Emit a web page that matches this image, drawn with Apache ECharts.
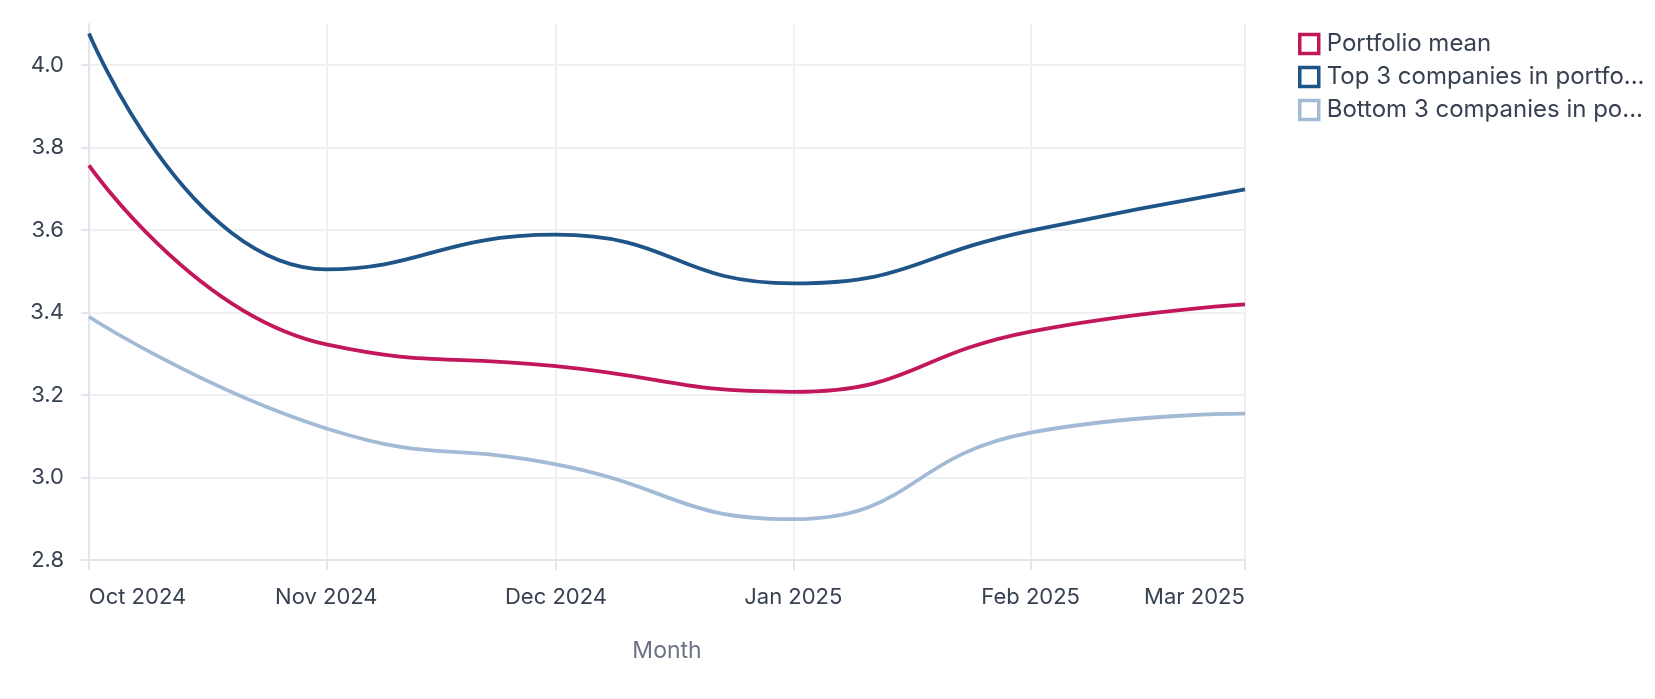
<!DOCTYPE html>
<html>
<head>
<meta charset="utf-8">
<script src="https://cdn.jsdelivr.net/npm/echarts@6/dist/echarts.min.js"></script>
<style>
	html, body { margin: 0; padding: 0; background: #fff; }
	#myChart { width: 1655px; height: 699px; }
</style>
</head>
<body>
<div id="myChart"></div>
<script>
	// 月份 (time axis)
	var months = ['2024-10-01', '2024-11-01', '2024-12-01', '2025-01-01', '2025-02-01', '2025-03-01'];
	var monthNames = ['Jan', 'Feb', 'Mar', 'Apr', 'May', 'Jun', 'Jul', 'Aug', 'Sep', 'Oct', 'Nov', 'Dec'];

	var seriesNames = ['Portfolio mean', 'Top 3 companies in portfolio', 'Bottom 3 companies in portfolio'];
	var meanValues = [3.757, 3.323, 3.270, 3.208, 3.354, 3.420];
	var topValues = [4.077, 3.505, 3.589, 3.471, 3.599, 3.699];
	var bottomValues = [3.390, 3.119, 3.032, 2.899, 3.109, 3.155];
	var colors = ['#c2185b', '#1f5489', '#a2bad5'];

	var labelFont = 22;

	function pairs(vals) {
		return vals.map(function(v, i) {
			return [months[i], v];
		});
	}

	// 文字宽度
	var measureCtx = document.createElement('canvas').getContext('2d');
	function textWidth(str) {
		measureCtx.font = labelFont + 'px Inter';
		return Math.round(measureCtx.measureText(str).width);
	}

	function monthLabel(value) {
		var d = new Date(value);
		return monthNames[d.getMonth()] + ' ' + d.getFullYear();
	}

	var firstTime = new Date(months[0]).getTime();
	var lastTime = new Date(months[months.length - 1]).getTime();
	var firstLabel = monthLabel(firstTime);
	var lastLabel = monthLabel(lastTime);

	var myChart = echarts.init(document.getElementById('myChart'));

	var lineSeries = [meanValues, topValues, bottomValues].map(function(vals, i) {
		return {
			name: seriesNames[i],
			type: 'line',
			smooth: true,
			showSymbol: false,
			data: pairs(vals),
			lineStyle: {
				color: colors[i],
				width: 3.8
			},
			itemStyle: {
				color: '#fff',
				borderColor: colors[i],
				borderWidth: 3.5
			}
		};
	});

	var option = {
		animation: false,
		textStyle: {
			fontFamily: 'Inter'
		},
		legend: {
			orient: 'vertical',
			left: 1293,
			top: 27,
			itemWidth: 19,
			itemHeight: 19,
			itemGap: 9,
			icon: 'rect',
			selectedMode: false,
			itemStyle: {
				borderWidth: 3.5
			},
			textStyle: {
				color: '#374151',
				fontSize: 24,
				padding: [0, 0, 0, 3],
				width: 323,
				overflow: 'truncate',
				ellipsis: '...'
			}
		},
		grid: {
			left: 89,
			right: 410,
			top: 24,
			bottom: 139,
			containLabel: false
		},
		xAxis: {
			type: 'time',
			min: months[0],
			max: months[months.length - 1],
			minInterval: 28 * 86400000,
			maxInterval: 31 * 86400000,
			name: 'Month',
			nameLocation: 'middle',
			nameGap: 80,
			nameTextStyle: {
				color: '#6b7280',
				fontSize: 23
			},
			axisLine: {
				show: true,
				lineStyle: { color: '#e2e5ec', width: 2 }
			},
			axisTick: {
				show: true,
				length: 10,
				lineStyle: { color: '#e2e5ec', width: 2 }
			},
			splitLine: {
				show: true,
				lineStyle: { color: '#eef0f3', width: 2 }
			},
			axisLabel: {
				color: '#374151',
				fontSize: labelFont,
				margin: 26,
				hideOverlap: false,
				formatter: function(value) {
					var s = monthLabel(value);
					if (value === firstTime) return '{first|' + s + '}';
					if (value === lastTime) return '{last|' + s + '}';
					return s;
				},
				rich: {
					first: {
						fontSize: labelFont,
						color: '#374151',
						padding: [0, 0, 0, textWidth(firstLabel)]
					},
					last: {
						fontSize: labelFont,
						color: '#374151',
						padding: [0, textWidth(lastLabel), 0, 0]
					}
				}
			}
		},
		yAxis: {
			type: 'value',
			min: 2.8,
			max: 4.1,
			interval: 0.2,
			axisLine: {
				show: true,
				lineStyle: { color: '#e2e5ec', width: 2 }
			},
			axisTick: {
				show: true,
				length: 8,
				lineStyle: { color: '#e2e5ec', width: 2 }
			},
			splitLine: {
				show: true,
				showMaxLine: false,
				lineStyle: { color: '#eef0f3', width: 2 }
			},
			axisLabel: {
				color: '#374151',
				fontSize: labelFont,
				margin: 25,
				showMaxLabel: false,
				formatter: function(v) {
					return v.toFixed(1);
				}
			}
		},
		series: lineSeries
	};

	myChart.setOption(option);
</script>
</body>
</html>
